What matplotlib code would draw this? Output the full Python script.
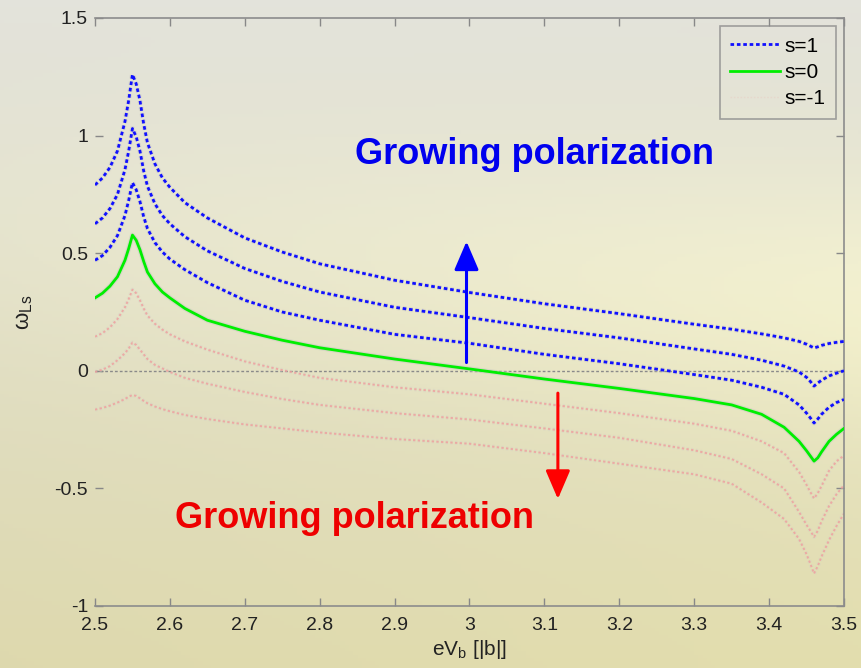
import numpy as np
import matplotlib
matplotlib.use('Agg')
import matplotlib.pyplot as plt
from matplotlib.lines import Line2D
import matplotlib.patheffects as pe

# ---------------- data ----------------
x_vals = [2.5, 2.51, 2.52, 2.53, 2.54, 2.545, 2.55, 2.555, 2.56, 2.565, 2.57, 2.58, 2.59, 2.6,
          2.62, 2.65, 2.7, 2.75, 2.8, 2.9, 3.0, 3.1, 3.2, 3.3, 3.35, 3.39, 3.42, 3.44, 3.45,
          3.455, 3.46, 3.465, 3.47, 3.48, 3.49, 3.5]

s_pos_1 = [0.79, 0.82, 0.865, 0.935, 1.06, 1.15, 1.26, 1.22, 1.15, 1.05, 0.97, 0.88, 0.82, 0.78,
           0.715, 0.65, 0.565, 0.505, 0.455, 0.385, 0.333, 0.285, 0.243, 0.198, 0.177, 0.157, 0.14,
           0.125, 0.113, 0.105, 0.097, 0.102, 0.108, 0.116, 0.121, 0.125]
s_pos_2 = [0.625, 0.65, 0.69, 0.75, 0.855, 0.935, 1.03, 0.995, 0.935, 0.85, 0.785, 0.71, 0.66, 0.625,
           0.57, 0.51, 0.435, 0.38, 0.335, 0.27, 0.226, 0.18, 0.14, 0.093, 0.07, 0.045, 0.02,
           -0.005, -0.028, -0.045, -0.065, -0.052, -0.04, -0.022, -0.01, 0.0]
s_pos_3 = [0.47, 0.49, 0.525, 0.575, 0.66, 0.725, 0.80, 0.77, 0.72, 0.655, 0.605, 0.545, 0.505, 0.475,
           0.43, 0.375, 0.30, 0.25, 0.215, 0.155, 0.117, 0.07, 0.03, -0.016, -0.04, -0.07, -0.1,
           -0.145, -0.18, -0.2, -0.222, -0.205, -0.185, -0.155, -0.135, -0.122]
s_zero = [0.31, 0.33, 0.36, 0.40, 0.47, 0.52, 0.577, 0.555, 0.515, 0.465, 0.42, 0.37, 0.335, 0.31,
          0.265, 0.215, 0.168, 0.13, 0.098, 0.05, 0.008, -0.035, -0.075, -0.118, -0.145, -0.185, -0.24,
          -0.30, -0.34, -0.362, -0.384, -0.37, -0.345, -0.30, -0.27, -0.245]
s_neg_1 = [0.145, 0.16, 0.185, 0.22, 0.27, 0.305, 0.345, 0.33, 0.30, 0.265, 0.235, 0.2, 0.175, 0.155,
           0.125, 0.09, 0.04, 0.003, -0.03, -0.07, -0.10, -0.14, -0.18, -0.225, -0.255, -0.30, -0.35,
           -0.43, -0.485, -0.515, -0.543, -0.52, -0.49, -0.425, -0.385, -0.36]
s_neg_2 = [-0.005, 0.005, 0.02, 0.045, 0.075, 0.095, 0.12, 0.11, 0.09, 0.07, 0.05, 0.025, 0.01, -0.005,
           -0.03, -0.055, -0.09, -0.12, -0.145, -0.18, -0.207, -0.245, -0.285, -0.338, -0.375, -0.44, -0.50,
           -0.60, -0.655, -0.68, -0.706, -0.68, -0.64, -0.575, -0.525, -0.486]
s_neg_3 = [-0.165, -0.158, -0.148, -0.135, -0.12, -0.11, -0.103, -0.107, -0.117, -0.128, -0.138, -0.152,
           -0.163, -0.172, -0.188, -0.205, -0.228, -0.245, -0.262, -0.29, -0.31, -0.35, -0.395, -0.44,
           -0.48, -0.56, -0.63, -0.715, -0.78, -0.82, -0.862, -0.83, -0.79, -0.72, -0.66, -0.607]

x_ticks = [2.5, 2.6, 2.7, 2.8, 2.9, 3.0, 3.1, 3.2, 3.3, 3.4, 3.5]
x_tick_labels = ['2.5', '2.6', '2.7', '2.8', '2.9', '3', '3.1', '3.2', '3.3', '3.4', '3.5']
y_ticks = [-1, -0.5, 0, 0.5, 1, 1.5]
y_tick_labels = ['-1', '-0.5', '0', '0.5', '1', '1.5']
legend_labels = ['s=1', 's=0', 's=-1']
annotation_text = 'Growing polarization'

# ---------------- figure ----------------
plt.rcParams['font.family'] = ['Liberation Sans', 'DejaVu Sans']
plt.rcParams['mathtext.fontset'] = 'custom'
plt.rcParams['mathtext.rm'] = 'Liberation Sans'
plt.rcParams['mathtext.it'] = 'Liberation Sans'

W, H = 862, 668
fig = plt.figure(figsize=(W / 100, H / 100), dpi=100)

# background gradient
bg = fig.add_axes([0, 0, 1, 1], zorder=-10)
bg.axis('off')
yy, xx = np.mgrid[0:1:200j, 0:1:200j]
top = np.array([0.89, 0.89, 0.86])
bot = np.array([0.89, 0.87, 0.68])
img = top[None, None, :] * (1 - yy[..., None]) + bot[None, None, :] * yy[..., None]
band = np.exp(-((yy - 0.35 - 0.1 * xx) / 0.2) ** 2) * (0.3 + 0.7 * xx)
img = img + band[..., None] * np.array([0.06, 0.06, 0.03])
img = img - (1 - xx[..., None]) * yy[..., None] * np.array([0.02, 0.02, 0.0])
bg.imshow(np.clip(img, 0, 1), aspect='auto', extent=[0, 1, 0, 1], origin='upper')
bg.set_xlim(0, 1)
bg.set_ylim(0, 1)

ax = fig.add_axes([95 / W, 62 / H, (844 - 95) / W, (606 - 18) / H])
ax.patch.set_alpha(0)

halo = [pe.Stroke(linewidth=3.6, foreground='#c8c8c0', alpha=0.5), pe.Normal()]
halo_r = [pe.Stroke(linewidth=3.0, foreground='#d0d0c8', alpha=0.35), pe.Normal()]

ax.axhline(0, color='#8a8a8a', lw=1.0, ls=(0, (2, 1.5)), zorder=1)

for yv in (s_neg_1, s_neg_2, s_neg_3):
    ax.plot(x_vals, yv, color='#f29a9a', lw=1.4, ls=(0, (1.2, 1.2)), alpha=0.75,
            path_effects=halo_r, zorder=2)
ax.plot(x_vals, s_zero, color='#00ee00', lw=2.0, path_effects=halo, zorder=3)
for yv in (s_pos_1, s_pos_2, s_pos_3):
    ax.plot(x_vals, yv, color='#1010ff', lw=2.0, ls=(0, (1.3, 1.0)),
            path_effects=halo, zorder=3)

ax.set_xlim(2.5, 3.5)
ax.set_ylim(-1, 1.5)
ax.set_xticks(x_ticks)
ax.set_xticklabels(x_tick_labels)
ax.set_yticks(y_ticks)
ax.set_yticklabels(y_tick_labels)
ax.tick_params(direction='in', top=True, right=True, length=6, width=1,
               color='#888888', labelcolor='#222222', labelsize=14)
ax.tick_params(axis='x', pad=8)
ax.tick_params(axis='y', pad=5)
for sp in ax.spines.values():
    sp.set_color('#8c8c8c')
    sp.set_linewidth(1.2)
ax.spines['left'].set_visible(False)

ax.set_xlabel(r'eV$_\mathrm{b}$ [|b|]', fontsize=15, color='#222222', labelpad=3)
ax.set_ylabel(r'$\mathrm{\omega}_\mathrm{Ls}$', fontsize=16, color='#222222', labelpad=14)

# arrows
ax.annotate('', xy=(2.996, 0.55), xytext=(2.996, 0.035),
            arrowprops=dict(arrowstyle='-|>,head_length=0.7,head_width=0.3',
                            color='#0000ff', lw=2.2, mutation_scale=25, shrinkA=0, shrinkB=0))
ax.annotate('', xy=(3.118, -0.545), xytext=(3.118, -0.095),
            arrowprops=dict(arrowstyle='-|>,head_length=0.7,head_width=0.3',
                            color='#ff0000', lw=2.2, mutation_scale=25, shrinkA=0, shrinkB=0))

ax.text(3.087, 0.918, annotation_text, color='#0000ee', fontsize=26, fontweight='bold',
        ha='center', va='center')
ax.text(2.846, -0.627, annotation_text, color='#ee0000', fontsize=26, fontweight='bold',
        ha='center', va='center')

handles = [Line2D([], [], color='#1010ff', lw=2.0, ls=(0, (1.3, 1.0))),
           Line2D([], [], color='#00ee00', lw=2.0),
           Line2D([], [], color='#f29a9a', lw=1.0, ls=(0, (1.2, 1.2)), alpha=0.15)]
leg = ax.legend(handles, legend_labels, loc='upper right', fontsize=15, frameon=True,
                fancybox=False, handlelength=2.4, handletextpad=0.2, borderaxespad=0.4,
                labelspacing=0.35, borderpad=0.5)
leg.get_frame().set_facecolor('none')
leg.get_frame().set_edgecolor('#8c8c8c')
leg.get_frame().set_linewidth(1.2)

fig.savefig('out.png', dpi=100)
